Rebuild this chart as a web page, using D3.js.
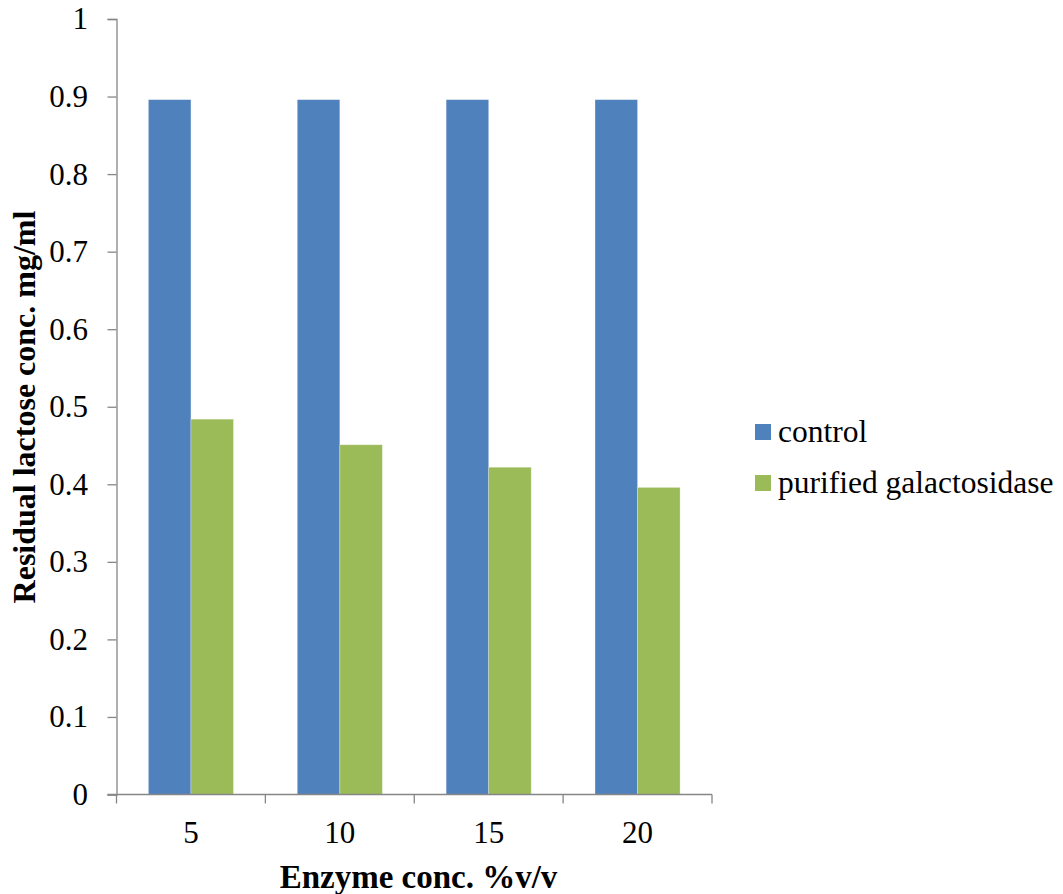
<!DOCTYPE html>
<html><head><meta charset="utf-8">
<script src="https://cdn.jsdelivr.net/npm/d3@7"></script>
<style>
html,body{margin:0;padding:0;background:#fff;}
svg{display:block;}
</style></head>
<body>
<svg id="chart" width="1063" height="894"></svg>
<script>
const categories = ["5", "10", "15", "20"];
const seriesNames = ["control", "purified galactosidase"];
const controlValues = [0.896, 0.896, 0.896, 0.896];
const purifiedValues = [0.484, 0.451, 0.422, 0.396];
const yTicks = [0, 0.1, 0.2, 0.3, 0.4, 0.5, 0.6, 0.7, 0.8, 0.9, 1];
const colors = ["#4F81BD", "#9BBB59"];
const xTitle = "Enzyme conc. %v/v";
const yTitle = "Residual lactose conc. mg/ml";

const FONT = '"Liberation Serif"';
const seriesValues = [controlValues, purifiedValues];
const svg = d3.select("#chart");
const plotLeft = 116.5, plotRight = 712, plotTop = 19, plotBottom = 794.5;
const axisColor = "#868686";

const x = d3.scaleBand().domain(categories).range([plotLeft, plotRight]).padding(0);
const xs = d3.scaleBand().domain(seriesNames).range([0, x.bandwidth()]).paddingInner(0).paddingOuter(0.75);
const y = d3.scaleLinear().domain([0, 1]).range([plotBottom, plotTop]);

// bars
seriesNames.forEach((s, si) => {
  svg.append("g").selectAll("rect").data(categories).join("rect")
    .attr("x", c => x(c) + xs(s))
    .attr("y", (c, i) => y(seriesValues[si][i]))
    .attr("width", xs.bandwidth())
    .attr("height", (c, i) => y(0) - y(seriesValues[si][i]))
    .attr("fill", colors[si])
    .attr("stroke", "#ffffff").attr("stroke-opacity", 0.35).attr("stroke-width", 0.8);
});

// y axis
const yAxis = svg.append("g").attr("transform", `translate(${plotLeft},0)`)
  .call(d3.axisLeft(y).tickValues(yTicks).tickFormat(d3.format("~g")).tickSize(9).tickPadding(19.5));
yAxis.attr("font-family", null).attr("font-size", null);
yAxis.select(".domain").attr("stroke", axisColor).attr("stroke-width", 1.3);
yAxis.selectAll(".tick line").attr("stroke", axisColor).attr("stroke-width", 1.3);
yAxis.selectAll(".tick text").attr("fill", "#000")
  .style("font-family", FONT).style("font-size", "31px");

// x axis
const xAxis = svg.append("g").attr("transform", `translate(0,${plotBottom})`)
  .call(d3.axisBottom(x).tickSize(0).tickPadding(26.5));
xAxis.attr("font-family", null).attr("font-size", null);
xAxis.select(".domain").remove();
xAxis.selectAll(".tick text").attr("fill", "#000")
  .style("font-family", FONT).style("font-size", "31px");
svg.append("line").attr("x1", plotLeft - 9).attr("x2", plotRight).attr("y1", plotBottom).attr("y2", plotBottom)
  .attr("stroke", axisColor).attr("stroke-width", 1.3);
const bounds = categories.map(c => x(c)).concat([x(categories[categories.length - 1]) + x.bandwidth()]);
svg.append("g").selectAll("line").data(bounds).join("line")
  .attr("x1", d => d).attr("x2", d => d).attr("y1", plotBottom).attr("y2", plotBottom + 9)
  .attr("stroke", axisColor).attr("stroke-width", 1.3);

// titles
svg.append("text").attr("x", 418.5).attr("y", 888).attr("text-anchor", "middle")
  .style("font-family", FONT).style("font-size", "33px").style("font-weight", "bold").text(xTitle);
svg.append("text").attr("transform", `translate(35,407) rotate(-90)`)
  .attr("text-anchor", "middle")
  .style("font-family", FONT).style("font-size", "32px").style("font-weight", "bold").text(yTitle);

// legend
const leg = svg.append("g").attr("transform", "translate(755,424)");
seriesNames.forEach((s, i) => {
  const g = leg.append("g").attr("transform", `translate(0,${i * 51})`);
  g.append("rect").attr("width", 16).attr("height", 16).attr("fill", colors[i]);
  g.append("text").attr("x", 23).attr("y", 17.7)
    .style("font-family", FONT).style("font-size", "31.5px").text(s);
});
</script>
</body></html>
